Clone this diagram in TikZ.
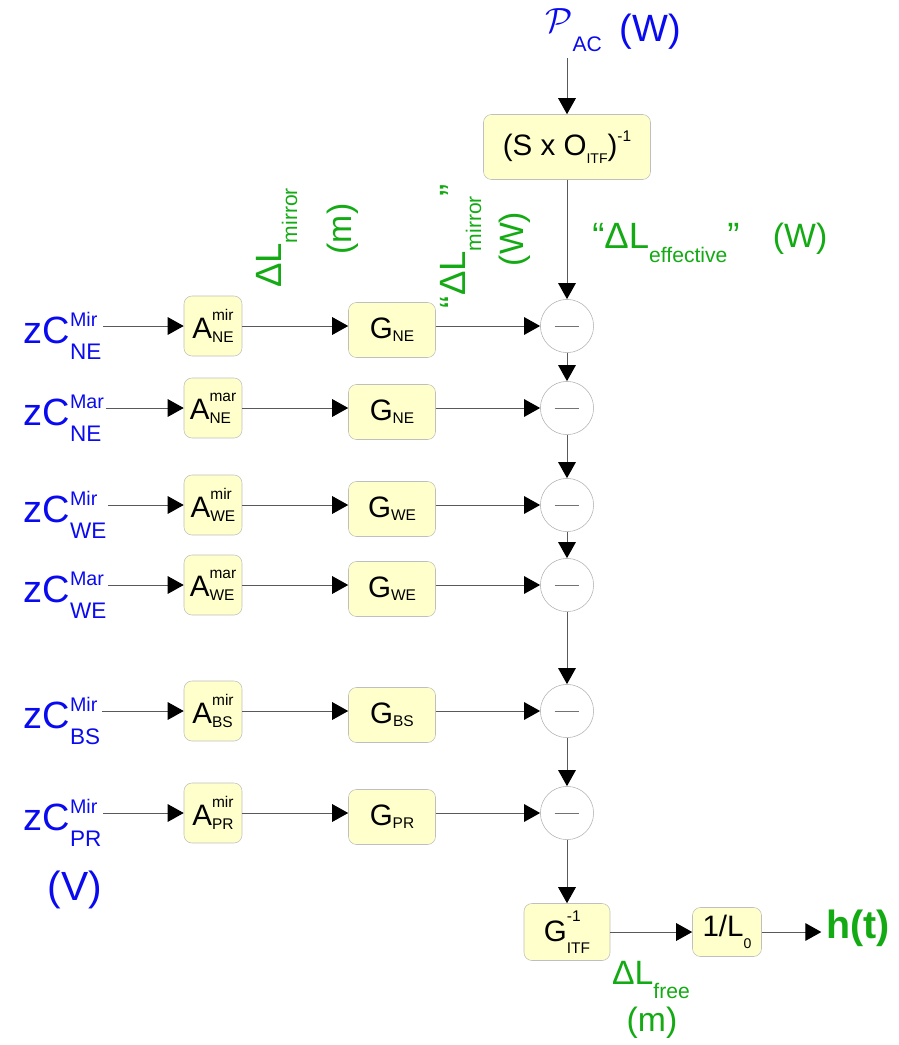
\documentclass[tikz,border=0pt]{standalone}
\usepackage{fontspec}
\setmainfont{Liberation Sans}
\usetikzlibrary{arrows.meta}

\definecolor{vert}{RGB}{20,170,20}
\definecolor{bleu}{RGB}{10,10,240}
\definecolor{fondbloc}{RGB}{255,255,204}

\newcommand{\taille}[1]{\fontsize{#1}{#1}\selectfont}
% exposant / indice empiles : [taille]{exposant}{indice}{montee}{descente}
\newcommand{\indx}[5][11]{{\taille{#1}\setbox0\hbox{#2}\setbox2\hbox{#3}%
  \ifdim\wd0>\wd2 \wd2=\wd0\fi\raisebox{#4}{\rlap{\box0}}\raisebox{-#5}{\box2}}}

\tikzset{
  bloc/.style={draw=black!25, fill=fondbloc, rounded corners=2mm, inner sep=0pt, font=\taille{21}},
  soustr/.style={circle, draw=black!30, fill=white, minimum size=1.33cm, inner sep=0pt},
  fleche/.style={draw=black!65, line width=0.7pt, -{Triangle[length=4mm,width=4.4mm,color=black]}},
  entree/.style={text=bleu, font=\taille{27}, anchor=base west, inner sep=1pt},
  unite/.style={text=vert, font=\taille{24}},
}

\begin{document}
\begin{tikzpicture}[x=0.025cm, y=-0.025cm]
  \useasboundingbox (0,0) rectangle (899,1045);

  % 1. Puissance P_AC et bloc (S x O_ITF)^-1
  \node[text=bleu, anchor=base west, inner sep=0pt] (pac) at (545,33) {\taille{25}$\mathcal{P}$\raisebox{-13.5pt}{\taille{15}AC}};
  \node[text=bleu, font=\taille{27}, anchor=base west] (pacu) at (615,42) {(W)};
  \node[bloc, minimum width=4.175cm, minimum height=1.625cm] (sxo) at (567,147) {(S x O\raisebox{-6pt}{\taille{10}ITF})\raisebox{10pt}{\taille{11}-1}};
  \draw[fleche, shorten <=4pt] (pac.south -| sxo.north) -- (sxo.north);
  \node[text=vert, anchor=base west, inner sep=0pt] (dleff) at (592,248) {\taille{26}“ΔL\indx[15]{}{effective}{0pt}{10pt}”};
  \node[unite, anchor=base west] (dleffu) at (768,247) {(W)};

  % 2. Les six voies : entree, A, G, soustracteur
  \foreach \y/\n/\Ma/\ma/\lieu in {326/1/Mir/mir/NE, 408/2/Mar/mar/NE, 505/3/Mir/mir/WE, 585/4/Mar/mar/WE, 711/5/Mir/mir/BS, 813/6/Mir/mir/PR}{
    \node[entree] (z\n) at (22,\y+17) {zC\indx[16]{\taille{14}\Ma}{\lieu}{11.4pt}{12pt}};
    \node[bloc, minimum width=1.45cm, minimum height=1.5cm] (a\n) at (213,\y) {A\indx{\ma}{\lieu}{12.8pt}{2.8pt}};
    \node[bloc, minimum width=2.175cm, minimum height=1.375cm] (g\n) at (392,\y+4) {G\indx{}{\lieu}{0pt}{2pt}};
    \node[soustr] (s\n) at (567,\y) {\color{black!55}\rule{6.2mm}{0.6pt}};
    \draw[fleche] (z\n.east |- a\n.west) -- (a\n.west);
    \draw[fleche] (a\n.east) -- (a\n.east -| g\n.west);
    \draw[fleche] (g\n.east |- s\n.west) -- (s\n.west);
  }
  \draw[fleche] (sxo.south) -- (s1.north);
  \foreach \i/\j in {1/2,2/3,3/4,4/5,5/6} \draw[fleche] (s\i.south) -- (s\j.north);

  % 3. Etiquettes des grandeurs
  \node[text=vert, rotate=90, inner sep=0pt] (dlm) at (277,238) {\taille{26}ΔL\indx[15]{}{mirror}{0pt}{11pt}};
  \node[unite, rotate=90] (dlmu) at (343,229) {(m)};
  \node[text=vert, rotate=90, inner sep=0pt] (dlmw) at (461,246) {\taille{26}“ΔL\indx[15]{}{mirror}{0pt}{11pt}”};
  \node[unite, rotate=90] (dlmwu) at (515,239) {(W)};
  \node[text=bleu, font=\taille{29}] (volt) at (75,890) {(V)};

  % 4. Sortie : G_ITF^-1, 1/L0 et h(t)
  \node[bloc, minimum width=2.15cm, minimum height=1.425cm] (ginv) at (567,932) {G\indx{-1}{ITF}{14pt}{8.5pt}};
  \node[bloc, minimum width=1.725cm, minimum height=1.225cm] (inv) at (727,932) {1/L\indx[10]{}{0}{0pt}{8.5pt}};
  \node[text=vert, font=\bfseries\taille{28}] (h) at (858,928) {h(t)};
  \draw[fleche] (s6.south) -- (ginv.north);
  \draw[fleche] (ginv.east) -- (inv.west);
  \draw[fleche] (inv.east) -- (inv.east -| h.west);
  \node[text=vert, inner sep=0pt] (dlf) at (651,980) {\taille{24}ΔL\indx[15]{}{free}{0pt}{10pt}};
  \node[unite] (dlfu) at (652,1023) {(m)};

\end{tikzpicture}
\end{document}
